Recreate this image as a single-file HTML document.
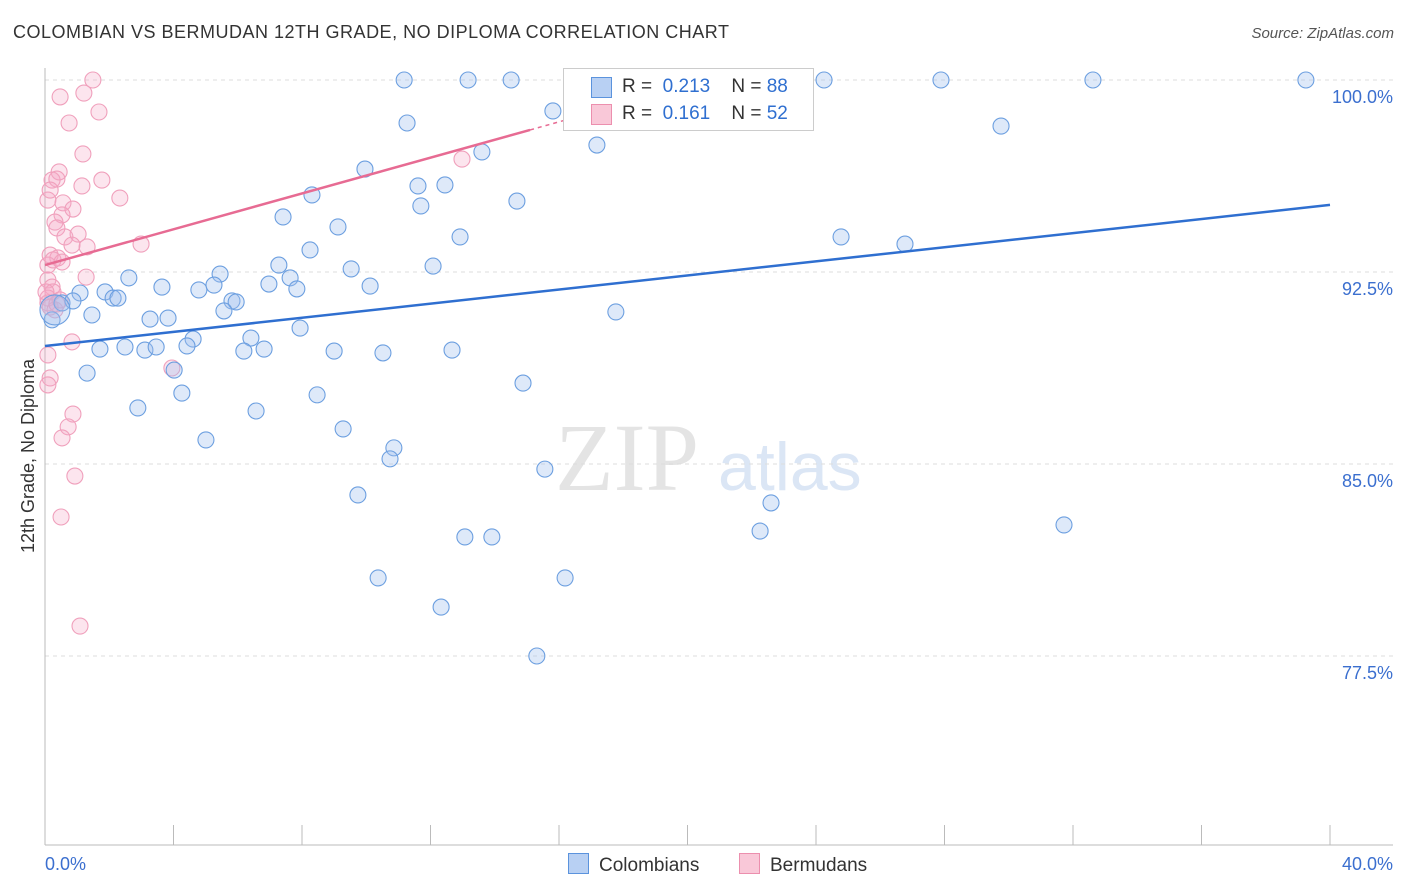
<!DOCTYPE html>
<html><head><meta charset="utf-8"><style>
body{margin:0;background:#fff;font-family:"Liberation Sans",sans-serif;}
#wrap{position:relative;width:1406px;height:892px;overflow:hidden;}
.t{position:absolute;white-space:nowrap;}
</style></head><body><div id="wrap">
<div class="t" style="left:13px;top:22px;font-size:18px;color:#333;letter-spacing:0.5px">COLOMBIAN VS BERMUDAN 12TH GRADE, NO DIPLOMA CORRELATION CHART</div>
<div class="t" style="right:12px;top:25px;font-size:15px;color:#555;font-style:italic">Source: ZipAtlas.com</div>
<svg id="svg" width="1406" height="892" style="position:absolute;left:0;top:0"></svg>
</div>
<script>
const xTicks=[0,40];
const yTicks=[77.5,85,92.5,100];
const blueX=[11.18,13.17,14.51,24.25,27.89,32.62,39.25,15.81,11.27,29.76,17.18,13.60,9.96,11.61,12.45,8.31,14.69,11.70,7.41,9.12,12.92,24.78,26.77,8.25,7.28,9.53,12.08,2.61,5.45,7.63,3.64,5.26,6.97,7.84,10.12,4.79,1.87,1.09,2.12,2.27,5.82,5.95,0.53,0.87,5.57,17.77,1.46,3.27,3.83,7.94,6.41,4.61,1.71,2.49,3.11,3.46,4.42,6.19,6.82,9.00,10.52,12.67,1.31,4.02,14.88,4.26,8.47,2.89,6.57,9.28,5.01,10.86,10.74,15.56,9.74,22.60,22.26,31.72,13.07,13.91,10.37,16.19,12.33,15.31,0.22];
const blueY=[100,100,100,100,100,100,100,98.79,98.32,98.20,97.46,97.19,96.52,95.86,95.90,95.51,95.27,95.08,94.65,94.26,93.87,93.87,93.59,93.36,92.77,92.62,92.73,92.27,92.42,92.27,91.91,91.99,92.03,91.84,91.95,91.80,91.72,91.68,91.48,91.48,91.37,91.33,91.29,91.37,90.98,90.94,90.82,90.66,90.70,90.31,89.92,89.88,89.49,89.57,89.45,89.57,89.61,89.41,89.49,89.41,89.34,89.45,88.55,88.67,88.16,87.77,87.70,87.19,87.07,86.37,85.94,85.63,85.20,84.80,83.79,83.48,82.38,82.62,82.15,82.15,80.55,80.55,79.41,77.50,90.63];
const pinkX=[1.49,0.47,1.21,1.68,0.75,1.18,0.44,0.22,0.37,1.15,1.77,2.33,0.09,0.56,0.87,0.53,0.31,0.37,0.62,1.03,0.84,1.31,2.99,0.16,0.40,0.09,1.28,0.09,0.22,0.25,0.09,0.09,0.16,0.31,0.37,12.98,0.84,3.95,0.16,0.09,0.87,0.72,0.53,0.93,0.50,1.09,0.03,0.47,0.25,0.16,0.53,0.09];
const pinkY=[100,99.34,99.49,98.75,98.32,97.11,96.41,96.09,96.13,95.86,96.09,95.39,95.31,95.20,94.96,94.73,94.45,94.22,93.87,93.98,93.55,93.48,93.59,93.16,93.05,92.77,92.30,92.19,91.91,91.72,91.48,91.29,91.13,91.02,91.25,96.91,89.77,88.75,88.36,88.09,86.95,86.45,86.02,84.53,82.93,78.67,91.72,91.41,92.97,95.70,92.89,89.26];
const bigBlue=[0.31,91.02];
const blueTrend=[89.61,95.12];
const pinkTrend=[92.77,98.05,15.1];
const X=v=>45+v*(1285/40), Y=v=>80+(100-v)*25.6;
const svg=document.getElementById('svg');const NS='http://www.w3.org/2000/svg';
function mk(t,a,p){const e=document.createElementNS(NS,t);for(const k in a)e.setAttribute(k,a[k]);(p||svg).appendChild(e);return e;}
let w=mk('text',{x:555,y:490,'font-size':96,'font-family':'Liberation Serif',fill:'#e4e4e4'});w.textContent='ZIP';


let w2=mk('text',{x:718,y:490,'font-size':68,'font-family':'Liberation Sans',fill:'#dbe6f5'});w2.textContent='atlas';


yTicks.forEach(v=>{
 const g=mk('line',{x1:45,x2:1393,y1:Y(v),y2:Y(v),stroke:'#ddd','stroke-dasharray':'4,4'});
 
 
 const t=mk('text',{x:1393,y:Y(v)+23,'text-anchor':'end','font-size':18,fill:'#3b6fcf','font-family':'Liberation Sans'});t.textContent=v.toFixed(1)+'%';
 
 
});
mk('line',{x1:45,x2:45,y1:68,y2:845,stroke:'#bbb'});
mk('line',{x1:45,x2:1393,y1:845,y2:845,stroke:'#bbb'});
for(let i=0;i<=10;i++){const tk=mk('line',{x1:X(i*4),x2:X(i*4),y1:825,y2:845,stroke:'#bbb'});
 
 }
xTicks.forEach((v,i)=>{const t=mk('text',{x:i?1393:45,y:870,'text-anchor':i?'end':'start','font-size':18,fill:'#3b6fcf','font-family':'Liberation Sans'});t.textContent=v.toFixed(1)+'%';
 
 });
let yt=mk('text',{x:0,y:0,transform:'translate(34,456) rotate(-90)','text-anchor':'middle','font-size':18,fill:'#333','font-family':'Liberation Sans'});yt.textContent='12th Grade, No Diploma';


pinkX.forEach((x,i)=>{const c=mk('circle',{cx:X(x),cy:Y(pinkY[i]),r:8,fill:'rgba(246,170,198,0.3)',stroke:'#f0a0bc','stroke-width':1.1});
 
 });
blueX.forEach((x,i)=>{const c=mk('circle',{cx:X(x),cy:Y(blueY[i]),r:8,fill:'rgba(160,192,238,0.35)',stroke:'#6c9fe0','stroke-width':1.1});
 
 });
const bb=mk('circle',{cx:X(bigBlue[0]),cy:Y(bigBlue[1]),r:15,fill:'rgba(160,192,238,0.35)',stroke:'#6c9fe0','stroke-width':1.1});


const bl=mk('line',{x1:X(0),y1:Y(blueTrend[0]),x2:X(40),y2:Y(blueTrend[1]),stroke:'#2f6fd0','stroke-width':2.5});


const pl=mk('line',{x1:X(0),y1:Y(pinkTrend[0]),x2:X(pinkTrend[2]),y2:Y(pinkTrend[1]),stroke:'#e76b93','stroke-width':2.5});


const sl=(pinkTrend[1]-pinkTrend[0])/pinkTrend[2];
const pd=mk('line',{x1:X(pinkTrend[2]),y1:Y(pinkTrend[1]),x2:X(18),y2:Y(pinkTrend[0]+sl*18),stroke:'#e76b93','stroke-width':1.5,'stroke-dasharray':'4,4'});


</script>
<div class="t" style="left:563px;top:68px;width:249px;height:61px;background:#fff;border:1px solid #ccc;font-size:19px;color:#333">
 <div style="position:absolute;left:27px;top:8px;width:19px;height:19px;background:#b8d0f3;border:1px solid #5b93dd"></div>
 <div style="position:absolute;left:58px;top:7px">R = <span style="color:#2f6fd0">&nbsp;0.213</span>&nbsp;&nbsp;&nbsp; N = <span style="color:#2f6fd0">88</span></div>
 <div style="position:absolute;left:27px;top:35px;width:19px;height:19px;background:#f9c8d8;border:1px solid #ec8fae"></div>
 <div style="position:absolute;left:58px;top:34px">R = <span style="color:#2f6fd0">&nbsp;0.161</span>&nbsp;&nbsp;&nbsp; N = <span style="color:#2f6fd0">52</span></div>
</div>
<div class="t" style="left:568px;top:853px;font-size:19px;color:#333"><span style="display:inline-block;width:19px;height:19px;background:#b8d0f3;border:1px solid #5b93dd;vertical-align:-3px;margin-right:10px"></span>Colombians</div>
<div class="t" style="left:739px;top:853px;font-size:19px;color:#333"><span style="display:inline-block;width:19px;height:19px;background:#f9c8d8;border:1px solid #ec8fae;vertical-align:-3px;margin-right:10px"></span>Bermudans</div>
</body></html>
